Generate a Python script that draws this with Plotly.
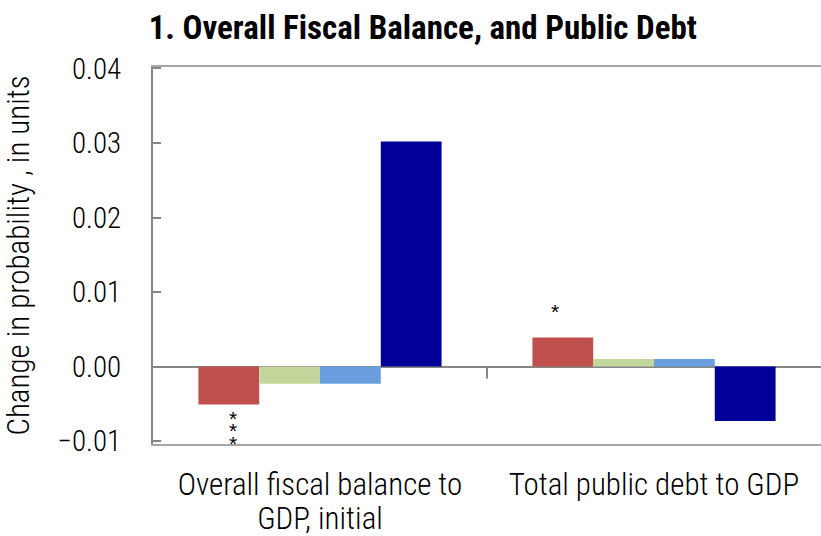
import plotly.graph_objects as go

# Categories and series values (change in probability, in units)
categories = ["Overall fiscal balance to<br>GDP, initial", "Total public debt to GDP"]
series_names = ["Series 1", "Series 2", "Series 3", "Series 4"]
series_values = [
    [-0.0051, 0.0039],
    [-0.0023, 0.0010],
    [-0.0023, 0.0010],
    [0.0302, -0.0073],
]
series_colors = ["#C0504D", "#C3D69B", "#6A9FDF", "#000099"]
# number of significance stars on the first series
star_counts = [3, 1]

y_ticks = [-0.01, 0.0, 0.01, 0.02, 0.03, 0.04]
y_tick_text = ["\u22120.01", "0.00", "0.01", "0.02", "0.03", "0.04"]

FONT = "Roboto Condensed, Liberation Sans Narrow, sans-serif"

x_pos = list(range(len(categories)))
BARGAP = 0.272

fig = go.Figure()
for name, vals, col in zip(series_names, series_values, series_colors):
    fig.add_trace(go.Bar(
        x=x_pos, y=vals, name=name,
        marker=dict(color=col, line=dict(width=0)),
        showlegend=False,
    ))

# significance stars next to the first series bars (stacked, tight line spacing)
n = len(series_names)
bar_w = (1 - BARGAP) / n
star = "<span style='font-size:21px'>*</span>"
for i, (v, k) in enumerate(zip(series_values[0], star_counts)):
    x_center = x_pos[i] - (n - 1) / 2 * bar_w
    text = "<br>".join([star] * k)
    if v < 0:
        fig.add_annotation(x=x_center, y=v, text=text, showarrow=False,
                           yanchor="top", xanchor="center", xshift=4, yshift=0,
                           font=dict(family="Liberation Sans, sans-serif", size=9.6, color="black"))
    else:
        fig.add_annotation(x=x_center, y=v, text=text, showarrow=False,
                           yanchor="bottom", xanchor="center", xshift=-8, yshift=12,
                           font=dict(family="Liberation Sans, sans-serif", size=9.6, color="black"))

# small divider tick between the two categories on the zero line
fig.add_shape(type="line", xref="x", yref="y", x0=0.5, x1=0.5, y0=0, y1=-0.0016,
              line=dict(color="#868686", width=2))

# category labels: 31px glyphs on a tighter line pitch
tick_labels = ["<span style='font-size:31px'>" + t.replace("<br>", "</span><br><span style='font-size:31px'>") + "</span>"
               for t in categories]

fig.update_layout(
    width=821, height=536,
    margin=dict(l=153, r=0, t=67, b=92, autoexpand=False),
    paper_bgcolor="white", plot_bgcolor="white",
    barmode="group", bargap=BARGAP, bargroupgap=0,
    title=dict(text="<b>1. Overall Fiscal Balance, and Public Debt</b>",
               x=0.515, xanchor="center", y=0.948, yanchor="middle",
               font=dict(family=FONT, size=33, color="black")),
    font=dict(family=FONT, color="black"),
)

fig.update_xaxes(
    range=[-0.5, 1.5], automargin=False,
    tickvals=x_pos, ticktext=tick_labels,
    tickfont=dict(family=FONT, size=26, color="black", weight=300),
    showline=True, linecolor="#A6A6A6", linewidth=2, mirror=True,
    ticks="", showgrid=False, zeroline=False,
    ticklabelstandoff=18,
)

fig.update_yaxes(
    range=[-0.0104, 0.0402], automargin=False,
    tickvals=y_ticks, ticktext=y_tick_text,
    tickfont=dict(family=FONT, size=29, color="black", weight=300),
    showline=True, linecolor="#868686", linewidth=2,
    ticks="inside", ticklen=8, tickwidth=2, tickcolor="#868686",
    showgrid=False,
    zeroline=True, zerolinecolor="#868686", zerolinewidth=2,
    ticklabelstandoff=24,
    title=dict(text="Change in probability , in units",
               font=dict(family=FONT, size=31, color="black", weight=300), standoff=22),
)

fig.write_html("out.html")
